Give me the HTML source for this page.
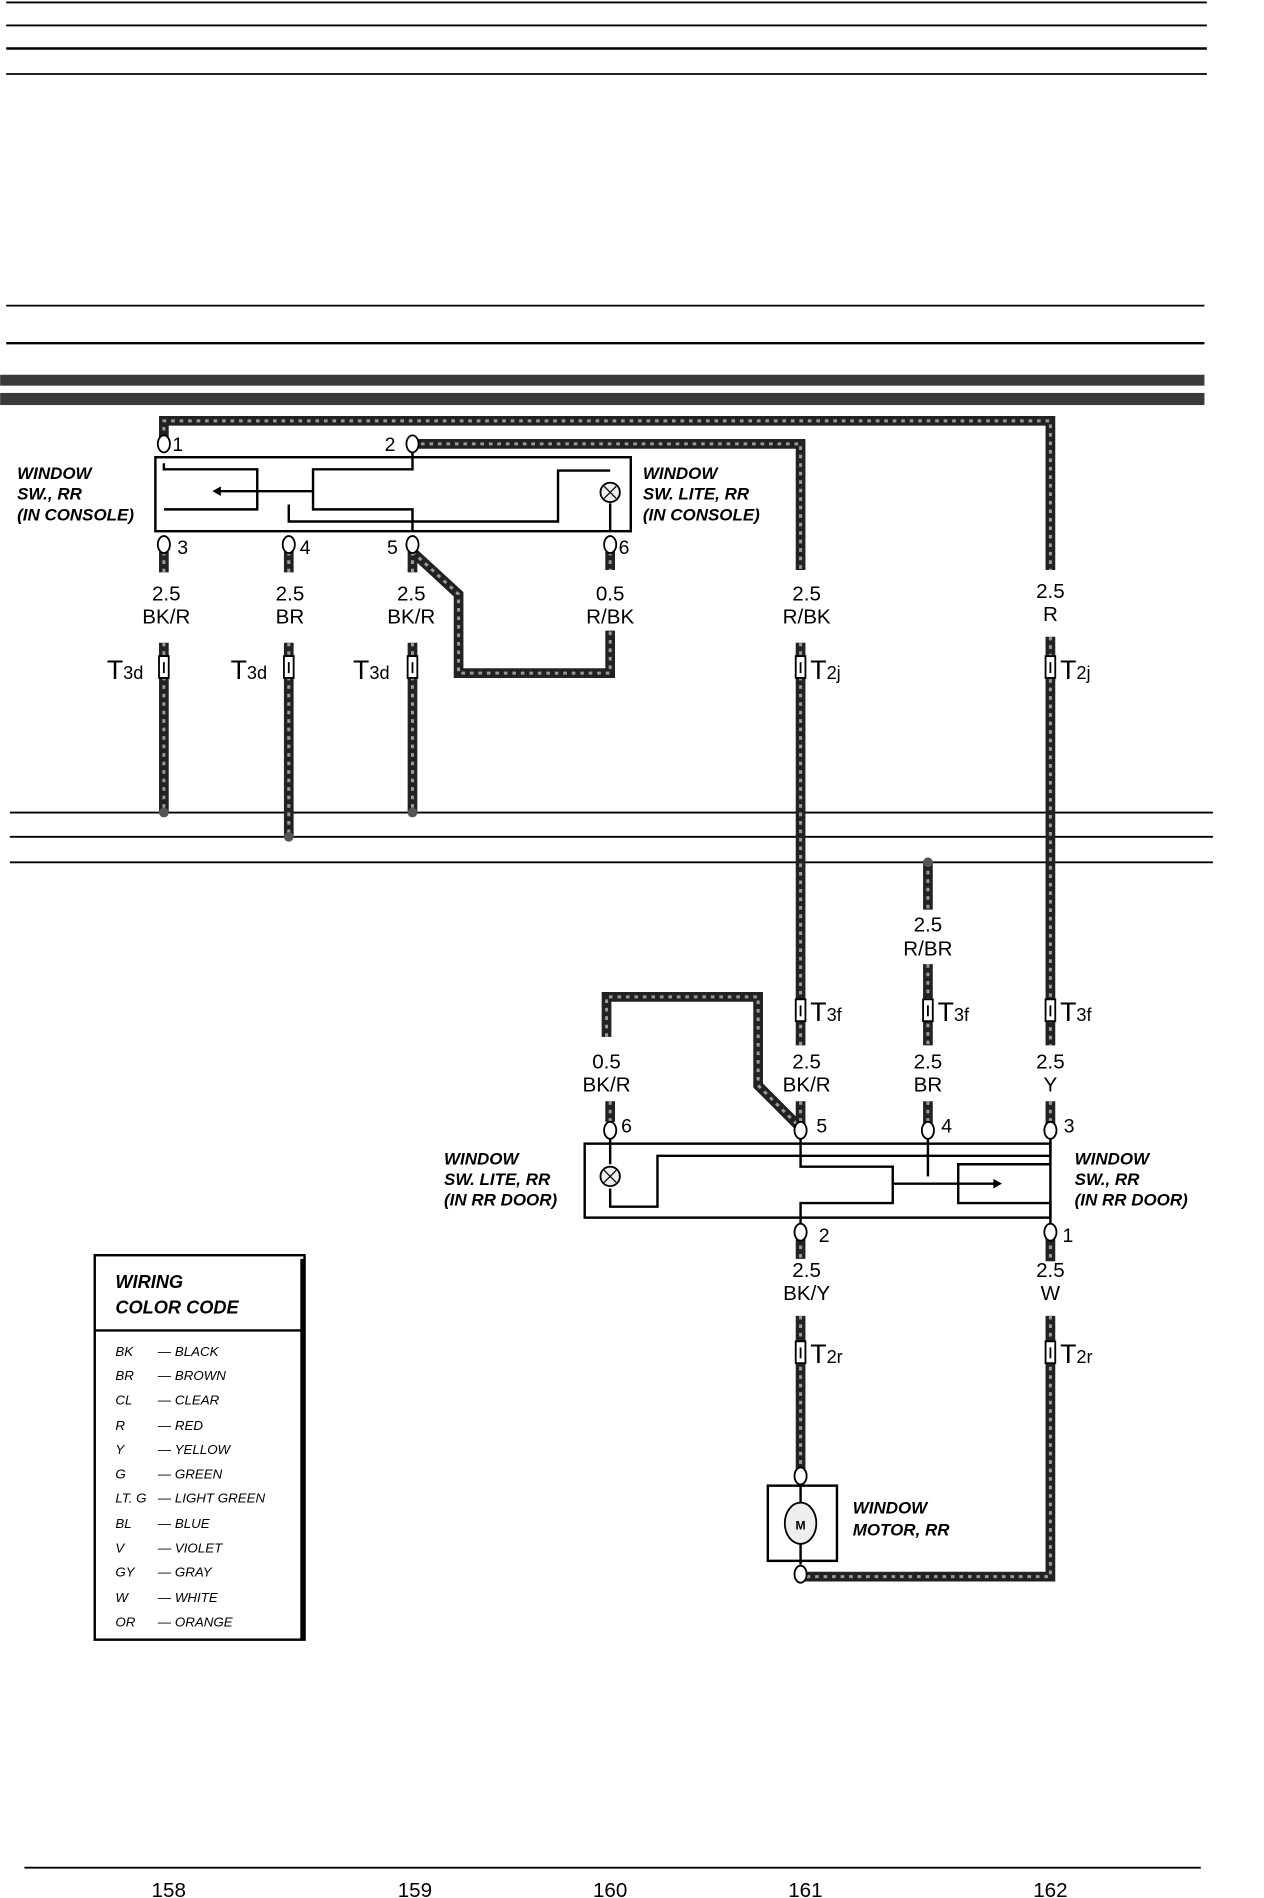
<!DOCTYPE html>
<html><head><meta charset="utf-8"><style>
html,body{margin:0;padding:0;background:#fff}
svg{display:block}
text{font-family:"Liberation Sans",sans-serif;fill:#000}
.lbl{font-size:17px;text-anchor:middle}
.it{font-size:14px;font-style:italic;font-weight:bold}
.lg{font-size:11px;font-style:italic}
</style></head><body>
<svg width="1264" height="1898" viewBox="0 0 1042 1565" xmlns="http://www.w3.org/2000/svg">
<defs>
<g id="conn"><rect x="-4" y="-9" width="8" height="18" fill="#fff" stroke="#000" stroke-width="1.5"/><line x1="0" y1="-4" x2="0" y2="5" stroke="#000" stroke-width="1.5"/></g>
<path id="w" d="M135 362V347H866V470M866 525V862M866 908V930M866 1020V1040M866 1085V1300H660
M340 366H660V470M660 530V862M660 908V930
M135 455V472M135 530V670M238 455V472M238 530V690M340 455V472M340 530V670M503 455V470
M340 455L378 490V555H503V520
M765 711V750M765 795V862M765 908V930
M500 855V822H625V895L660 930M503 908V925
M660 1020V1038M660 1085V1215"/>
</defs>
<g stroke="#000" stroke-width="1.5">
<line x1="5" y1="2" x2="995" y2="2"/><line x1="5" y1="21" x2="995" y2="21"/>
<line x1="5" y1="40" x2="995" y2="40" stroke-width="2"/><line x1="5" y1="61" x2="995" y2="61"/>
<line x1="5" y1="252" x2="993" y2="252"/><line x1="5" y1="283" x2="993" y2="283" stroke-width="2"/>
<line x1="8" y1="670" x2="1000" y2="670"/><line x1="8" y1="690" x2="1000" y2="690"/><line x1="8" y1="711" x2="1000" y2="711"/>
<line x1="20" y1="1540" x2="990" y2="1540"/>
</g>
<rect x="0" y="309" width="993" height="9" fill="#3a3a3a"/>
<rect x="0" y="324" width="993" height="10" fill="#3a3a3a"/>
<use href="#w" fill="none" stroke="#222" stroke-width="8"/>
<use href="#w" fill="none" stroke="#999" stroke-width="2.5" stroke-dasharray="3 4"/>
<!-- console switch -->
<rect x="128" y="377" width="392" height="61" fill="#fff" stroke="#000" stroke-width="2"/>
<g stroke="#000" stroke-width="2" fill="none">
<path d="M135 382V387H212V420H135"/><path d="M340 372V387H258V420H340V438"/>
<path d="M180 405H258M238 416V430H460V388H503"/><line x1="503" y1="415" x2="503" y2="438"/>
</g>
<circle cx="503" cy="406" r="8" fill="#eee" stroke="#000" stroke-width="1.5"/>
<path d="M498 401l10 10M508 401l-10 10" stroke="#000"/>
<path d="M175 405l7 -4v8z"/>
<g fill="#fff" stroke="#000" stroke-width="1.5">
<ellipse cx="135" cy="366" rx="5" ry="7"/><ellipse cx="340" cy="366" rx="5" ry="7"/>
<ellipse cx="135" cy="449" rx="5" ry="7"/><ellipse cx="238" cy="449" rx="5" ry="7"/><ellipse cx="340" cy="449" rx="5" ry="7"/><ellipse cx="503" cy="449" rx="5" ry="7"/>
</g>
<text x="142" y="372" style="font-size:16px">1</text><text x="317" y="372" style="font-size:16px">2</text>
<text x="146" y="457" style="font-size:16px">3</text><text x="247" y="457" style="font-size:16px">4</text><text x="319" y="457" style="font-size:16px">5</text><text x="510" y="457" style="font-size:16px">6</text>
<text class="it" x="14" y="395">WINDOW</text><text class="it" x="14" y="412">SW., RR</text><text class="it" x="14" y="429">(IN CONSOLE)</text>
<text class="it" x="530" y="395">WINDOW</text><text class="it" x="530" y="412">SW. LITE, RR</text><text class="it" x="530" y="429">(IN CONSOLE)</text>
<g class="lbl">
<text x="137" y="495">2.5</text><text x="137" y="514">BK/R</text>
<text x="239" y="495">2.5</text><text x="239" y="514">BR</text>
<text x="339" y="495">2.5</text><text x="339" y="514">BK/R</text>
<text x="503" y="495">0.5</text><text x="503" y="514">R/BK</text>
<text x="665" y="495">2.5</text><text x="665" y="514">R/BK</text>
<text x="866" y="493">2.5</text><text x="866" y="512">R</text>
<text x="765" y="768">2.5</text><text x="765" y="788">R/BR</text>
<text x="500" y="881">0.5</text><text x="500" y="900">BK/R</text>
<text x="665" y="881">2.5</text><text x="665" y="900">BK/R</text>
<text x="765" y="881">2.5</text><text x="765" y="900">BR</text>
<text x="866" y="881">2.5</text><text x="866" y="900">Y</text>
<text x="665" y="1053">2.5</text><text x="665" y="1072">BK/Y</text>
<text x="866" y="1053">2.5</text><text x="866" y="1072">W</text>
</g>
<g>
<use href="#conn" x="135" y="550"/><use href="#conn" x="238" y="550"/><use href="#conn" x="340" y="550"/>
<use href="#conn" x="660" y="550"/><use href="#conn" x="866" y="550"/>
<use href="#conn" x="660" y="833"/><use href="#conn" x="765" y="833"/><use href="#conn" x="866" y="833"/>
<use href="#conn" x="660" y="1115"/><use href="#conn" x="866" y="1115"/>
</g>
<g style="font-size:22px">
<text x="88" y="560">T<tspan style="font-size:15px">3d</tspan></text>
<text x="190" y="560">T<tspan style="font-size:15px">3d</tspan></text>
<text x="291" y="560">T<tspan style="font-size:15px">3d</tspan></text>
<text x="668" y="560">T<tspan style="font-size:15px">2j</tspan></text>
<text x="874" y="560">T<tspan style="font-size:15px">2j</tspan></text>
<text x="668" y="842">T<tspan style="font-size:15px">3f</tspan></text>
<text x="773" y="842">T<tspan style="font-size:15px">3f</tspan></text>
<text x="874" y="842">T<tspan style="font-size:15px">3f</tspan></text>
<text x="668" y="1124">T<tspan style="font-size:15px">2r</tspan></text>
<text x="874" y="1124">T<tspan style="font-size:15px">2r</tspan></text>
</g>
<g fill="#555"><circle cx="135" cy="670" r="4"/><circle cx="238" cy="690" r="4"/><circle cx="340" cy="670" r="4"/><circle cx="765" cy="711" r="4"/></g>
<!-- door switch -->
<rect x="482" y="943" width="384" height="61" fill="#fff" stroke="#000" stroke-width="2"/>
<g stroke="#000" stroke-width="2" fill="none">
<path d="M503 938V960M503 980V995H542V953H866V938"/>
<path d="M660 938V962H736V992H660V1012"/><path d="M765 938V960M765 960V970"/>
<path d="M866 960H790V992H866V1012"/><path d="M736 976H820"/>
</g>
<circle cx="503" cy="970" r="8" fill="#eee" stroke="#000" stroke-width="1.5"/>
<path d="M498 965l10 10M508 965l-10 10" stroke="#000"/>
<path d="M826 976l-7 -4v8z"/>
<g fill="#fff" stroke="#000" stroke-width="1.5">
<ellipse cx="503" cy="932" rx="5" ry="7"/><ellipse cx="660" cy="932" rx="5" ry="7"/><ellipse cx="765" cy="932" rx="5" ry="7"/><ellipse cx="866" cy="932" rx="5" ry="7"/>
<ellipse cx="660" cy="1016" rx="5" ry="7"/><ellipse cx="866" cy="1016" rx="5" ry="7"/>
<ellipse cx="660" cy="1217" rx="5" ry="7"/><ellipse cx="660" cy="1298" rx="5" ry="7"/>
</g>
<text x="512" y="934" style="font-size:16px">6</text><text x="673" y="934" style="font-size:16px">5</text><text x="776" y="934" style="font-size:16px">4</text><text x="877" y="934" style="font-size:16px">3</text>
<text x="675" y="1024" style="font-size:16px">2</text><text x="876" y="1024" style="font-size:16px">1</text>
<text class="it" x="366" y="960">WINDOW</text><text class="it" x="366" y="977">SW. LITE, RR</text><text class="it" x="366" y="994">(IN RR DOOR)</text>
<text class="it" x="886" y="960">WINDOW</text><text class="it" x="886" y="977">SW., RR</text><text class="it" x="886" y="994">(IN RR DOOR)</text>
<!-- motor -->
<rect x="633" y="1225" width="57" height="62" fill="#fff" stroke="#000" stroke-width="2"/>
<line x1="660" y1="1224" x2="660" y2="1290" stroke="#000" stroke-width="2"/>
<ellipse cx="660" cy="1256" rx="13" ry="17" fill="#eee" stroke="#000" stroke-width="1.5"/>
<text x="660" y="1261" style="font-size:10px;text-anchor:middle;font-weight:bold">M</text>
<text class="it" x="703" y="1248">WINDOW</text><text class="it" x="703" y="1266">MOTOR, RR</text>
<!-- legend -->
<rect x="78" y="1035" width="173" height="317" fill="#fff" stroke="#000" stroke-width="2"/>
<line x1="78" y1="1097" x2="251" y2="1097" stroke="#000" stroke-width="2"/>
<line x1="249" y1="1038" x2="249" y2="1352" stroke="#000" stroke-width="3"/>
<text class="it" x="95" y="1062" style="font-size:15px">WIRING</text><text class="it" x="95" y="1083" style="font-size:15px">COLOR CODE</text>
<g class="lg">
<text x="95" y="1118">BK</text><text x="130" y="1118">— BLACK</text>
<text x="95" y="1138">BR</text><text x="130" y="1138">— BROWN</text>
<text x="95" y="1158">CL</text><text x="130" y="1158">— CLEAR</text>
<text x="95" y="1179">R</text><text x="130" y="1179">— RED</text>
<text x="95" y="1199">Y</text><text x="130" y="1199">— YELLOW</text>
<text x="95" y="1219">G</text><text x="130" y="1219">— GREEN</text>
<text x="95" y="1239">LT. G</text><text x="130" y="1239">— LIGHT GREEN</text>
<text x="95" y="1260">BL</text><text x="130" y="1260">— BLUE</text>
<text x="95" y="1280">V</text><text x="130" y="1280">— VIOLET</text>
<text x="95" y="1300">GY</text><text x="130" y="1300">— GRAY</text>
<text x="95" y="1321">W</text><text x="130" y="1321">— WHITE</text>
<text x="95" y="1341">OR</text><text x="130" y="1341">— ORANGE</text>
</g>
<g class="lbl">
<text x="139" y="1564">158</text><text x="342" y="1564">159</text><text x="503" y="1564">160</text><text x="664" y="1564">161</text><text x="866" y="1564">162</text>
</g>
</svg>
</body></html>
